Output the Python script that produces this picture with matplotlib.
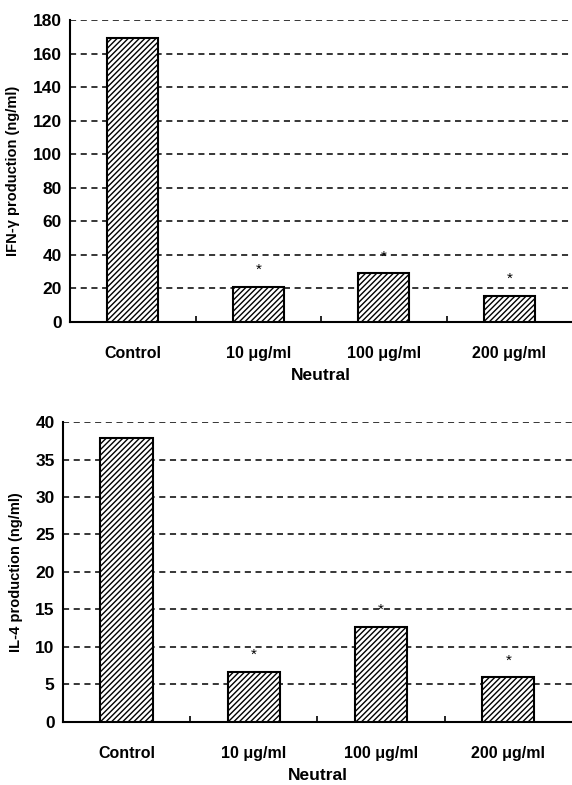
import matplotlib.pyplot as plt
import numpy as np

plt.rcParams['font.family'] = ['Liberation Sans', 'DejaVu Sans']
plt.rcParams['font.weight'] = 'bold'
plt.rcParams['axes.labelweight'] = 'bold'
plt.rcParams['hatch.linewidth'] = 1.0

# Treatment groups
groups = ['Control', '10 μg/ml', '100 μg/ml', '200 μg/ml']
xlabel = 'Neutral'

# Cytokine levels (ng/ml)
ifn_values = [169, 21, 29, 15.5]
ifn_sig = [False, True, True, True]
il4_values = [37.9, 6.7, 12.7, 6.0]
il4_sig = [False, True, True, True]

ifn_ticks = np.arange(0, 181, 20)
il4_ticks = np.arange(0, 41, 5)

fig = plt.figure(figsize=(5.72, 7.85), dpi=100)
ax1 = fig.add_axes([0.1224, 0.5898, 0.8776, 0.3847])
ax2 = fig.add_axes([0.110, 0.0803, 0.890, 0.3821])


def draw_panel(ax, values, sig, ticks, ylabel, star_offset):
    x = np.arange(len(groups))
    ax.bar(x, values, width=0.41, color='white', edgecolor='black',
           linewidth=1.5, hatch='//////', zorder=3)
    for xi, v, s in zip(x, values, sig):
        if s:
            ax.text(xi, v + star_offset, '*', ha='center', va='center',
                    fontsize=11, fontweight='normal', zorder=4)

    ax.set_xlim(-0.5, 3.5)
    ax.set_ylim(0, ticks[-1])
    ax.set_yticks(ticks)
    ax.set_yticklabels([str(t) for t in ticks], fontsize=12.5)
    ax.yaxis.grid(True, color='black', linestyle=(0, (4, 3)), linewidth=1.1)
    ax.set_axisbelow(True)

    ax.set_xticks(x)
    ax.set_xticklabels(groups, fontsize=11.5)
    ax.set_xticks([0.5, 1.5, 2.5], minor=True)
    ax.tick_params(axis='x', which='major', length=0, pad=17)
    ax.tick_params(axis='x', which='minor', direction='in', length=4, width=1.2)
    ax.tick_params(axis='y', length=0, pad=6)
    ax.set_xlabel(xlabel, fontsize=12.5, labelpad=5)
    ax.set_ylabel(ylabel, fontsize=10.5, labelpad=9)

    for side in ['top', 'right']:
        ax.spines[side].set_visible(False)
    for side in ['left', 'bottom']:
        ax.spines[side].set_linewidth(1.5)


draw_panel(ax1, ifn_values, ifn_sig, ifn_ticks, 'IFN-γ production (ng/ml)', 10)
draw_panel(ax2, il4_values, il4_sig, il4_ticks, 'IL-4 production (ng/ml)', 2.2)

fig.savefig('out.png', dpi=100)
plt.close(fig)
